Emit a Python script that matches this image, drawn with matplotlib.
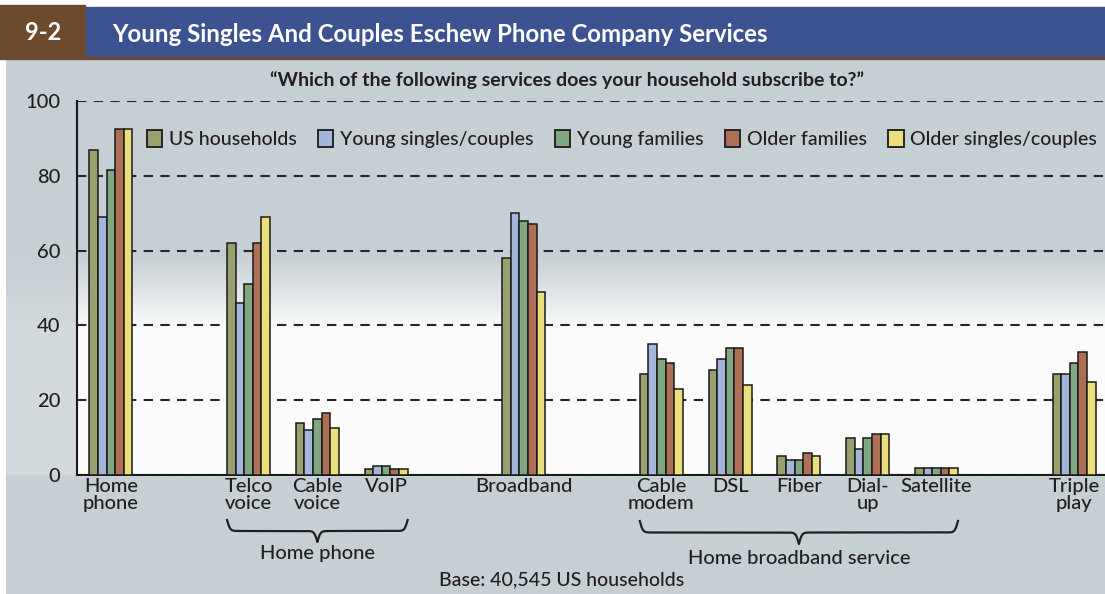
import matplotlib.pyplot as plt
import numpy as np
from matplotlib.patches import Rectangle, Patch
from matplotlib.transforms import blended_transform_factory

plt.rcParams['font.family'] = ['Lato', 'DejaVu Sans']
plt.rcParams['font.weight'] = 'medium'

# survey data (% of households)
categories = ["Home\nphone", "Telco\nvoice", "Cable\nvoice", "VoIP", "Broadband",
              "Cable\nmodem", "DSL", "Fiber", "Dial-\nup", "Satellite", "Triple\nplay"]
segments = ["US households", "Young singles/couples", "Young families",
            "Older families", "Older singles/couples"]
us_households = [87, 62, 14, 1.5, 58, 27, 28, 5, 10, 2, 27]
young_singles = [69, 46, 12, 2.5, 70, 35, 31, 4, 7, 2, 27]
young_families = [81.5, 51, 15, 2.5, 68, 31, 34, 4, 10, 2, 30]
older_families = [92.5, 62, 16.5, 1.5, 67, 30, 34, 6, 11, 2, 33]
older_singles = [92.5, 69, 12.5, 1.5, 49, 23, 24, 5, 11, 2, 25]
series = [us_households, young_singles, young_families, older_families, older_singles]
colors = ["#97a06e", "#a3b5d8", "#80a77f", "#ad6f56", "#eadf7a"]

# slot of each category along the x axis (gaps separate the groups)
slots = np.array([0, 2, 3, 4, 6, 8, 9, 10, 11, 12, 14])

W, H = 1105, 594
fig = plt.figure(figsize=(W / 100, H / 100), dpi=100)
fig.patch.set_facecolor("white")

# background: grey-blue, fading to white in the lower plot area
bg = fig.add_axes([0, 0, 1, 1], zorder=-10)
bg.axis("off")
yy, xx = np.mgrid[0:H, 0:W]
white = np.clip((yy - 255) / 75.0, 0, 1) * np.clip((477 - yy) / 4.0, 0, 1)
white = white * np.where(xx < 77, 0.25, 1.0)
grey = np.array([198, 207, 212]) / 255.0
img = grey[None, None, :] * (1 - white[..., None]) + white[..., None] * 0.99
img[:59, :, :] = 1.0
img[:, :6, :] = 1.0
bg.imshow(img, aspect="auto", extent=[0, W, H, 0])
bg.set_xlim(0, W)
bg.set_ylim(H, 0)

# header band
bg.add_patch(Rectangle((85, 7), W - 85, 50, color="#3d5391"))
bg.add_patch(Rectangle((0, 5), 85, 52, color="#6e4a2c"))
bg.add_patch(Rectangle((0, 57), W, 2, color="#6a4a3a"))
bg.text(43, 33, "9-2", color="white", fontsize=17, fontweight="bold",
        ha="center", va="center")
bg.text(112, 34, "Young Singles And Couples Eschew Phone Company Services",
        color="white", fontsize=17.3, fontweight="bold", ha="left", va="center")
bg.text(567, 80, "\u201cWhich of the following services does your household subscribe to?\u201d",
        color="#231f20", fontsize=14, fontweight="bold", ha="center", va="center")

ax = fig.add_axes([77 / W, 1 - 475 / H, 1 - 77 / W, (475 - 101) / H])
ax.patch.set_alpha(0)

bw = 0.125
for i, (vals, col) in enumerate(zip(series, colors)):
    ax.bar(slots + (i - 2) * bw, vals, width=bw, color=col,
           edgecolor="#1a1a1a", linewidth=1.1, zorder=3)

ax.set_xlim(-0.494, 14.45)
ax.set_ylim(0, 100)
ax.set_yticks([0, 20, 40, 60, 80, 100])
ax.yaxis.grid(True, linestyle=(0, (4.5, 3.5)), color="#262626", linewidth=1.5)
ax.set_axisbelow(True)
ax.tick_params(axis="y", length=0, pad=12, labelsize=14.5, labelcolor="#231f20")
ax.set_xticks(slots)
ax.set_xticklabels(categories, fontsize=14.5, color="#231f20", linespacing=1.0)
ax.tick_params(axis="x", length=0, pad=2)
for side in ("top", "right"):
    ax.spines[side].set_visible(False)
for side in ("left", "bottom"):
    ax.spines[side].set_linewidth(1.5)
    ax.spines[side].set_color("#1a1a1a")

handles = [Patch(facecolor=c, edgecolor="#1a1a1a", linewidth=1.3, label=s)
           for s, c in zip(segments, colors)]
ax.legend(handles=handles, ncol=5, loc="center left", frameon=False,
          bbox_to_anchor=(147 / W, 1 - 139 / H), bbox_transform=fig.transFigure,
          fontsize=14, handlelength=0.78, handleheight=1.0, handletextpad=0.35,
          columnspacing=1.1, labelcolor="#231f20", borderpad=0, borderaxespad=0)

# curly braces grouping categories under the axis
trans = blended_transform_factory(ax.transData, fig.transFigure)


def brace(x0, x1, y_end, y_tip, beta=45.0, n=401):
    x = np.linspace(x0, x1, n)
    half = x[: n // 2 + 1]
    yh = 1 / (1 + np.exp(-beta * (half - half[0]))) + 1 / (1 + np.exp(-beta * (half - half[-1])))
    yv = np.concatenate((yh, yh[-2::-1]))
    ypx = y_end + (yv - 0.5) * (y_tip - y_end)
    ax.plot(x, 1 - ypx / H, transform=trans, color="#231f20", lw=1.6, clip_on=False)


half_group = 2.5 * bw
brace(slots[1] - half_group, slots[3] + half_group, 520, 542)
brace(slots[5] - half_group, slots[9] + half_group, 521, 544)
ax.text(slots[2], 1 - 554 / H, "Home phone", transform=trans, ha="center", va="center",
        fontsize=14.5, color="#231f20")
ax.text((slots[5] + slots[9]) / 2, 1 - 558 / H, "Home broadband service", transform=trans,
        ha="center", va="center", fontsize=14.5, color="#231f20")
bg.text(562, 580, "Base: 40,545 US households", ha="center", va="center",
        fontsize=14, color="#231f20")

fig.savefig("out.png", dpi=100)
